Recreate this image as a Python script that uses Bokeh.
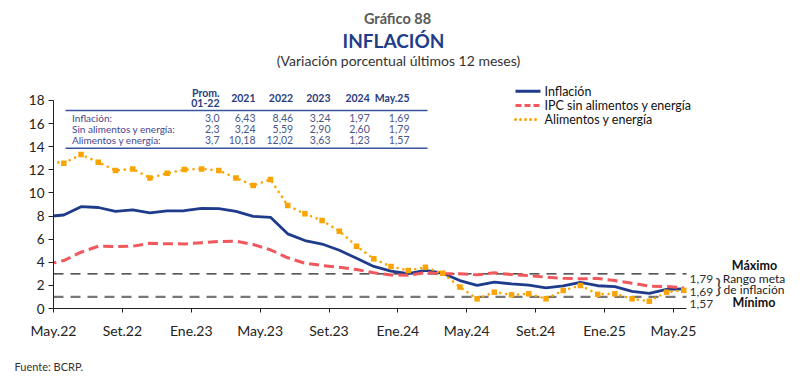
import numpy as np
from bokeh.plotting import figure
from bokeh.models import Range1d, Label, FixedTicker, CustomJSTickFormatter
from bokeh.embed import file_html
from bokeh.resources import INLINE

# ---------------- data ----------------
months = ["Abr.22", "May.22", "Jun.22", "Jul.22", "Ago.22", "Set.22", "Oct.22", "Nov.22", "Dic.22",
          "Ene.23", "Feb.23", "Mar.23", "Abr.23", "May.23", "Jun.23", "Jul.23", "Ago.23", "Set.23",
          "Oct.23", "Nov.23", "Dic.23", "Ene.24", "Feb.24", "Mar.24", "Abr.24", "May.24", "Jun.24",
          "Jul.24", "Ago.24", "Set.24", "Oct.24", "Nov.24", "Dic.24", "Ene.25", "Feb.25", "Mar.25",
          "Abr.25", "May.25"]
inflacion = [7.96, 8.09, 8.81, 8.74, 8.40, 8.53, 8.28, 8.45, 8.46,
             8.66, 8.65, 8.40, 7.97, 7.89, 6.46, 5.88, 5.58, 5.04,
             4.34, 3.64, 3.24, 3.02, 3.29, 3.05, 2.42, 2.00, 2.29,
             2.13, 2.03, 1.78, 1.96, 2.27, 1.97, 1.90, 1.48, 1.30,
             1.65, 1.69]
sin_alim_energia = [3.80, 4.15, 4.87, 5.39, 5.36, 5.39, 5.65, 5.60, 5.59,
                    5.70, 5.80, 5.82, 5.54, 5.07, 4.39, 3.92, 3.72, 3.57,
                    3.37, 3.09, 2.90, 2.88, 3.11, 3.00, 3.00, 2.91, 3.09,
                    2.94, 2.85, 2.71, 2.62, 2.57, 2.60, 2.42, 2.19, 1.93,
                    1.90, 1.79]
alim_energia = [12.80, 12.57, 13.32, 12.66, 11.94, 12.08, 11.30, 11.70, 12.02,
                12.08, 11.94, 11.30, 10.64, 11.16, 8.91, 8.19, 7.61, 6.69,
                5.39, 4.30, 3.63, 3.29, 3.57, 3.05, 1.85, 0.84, 1.41,
                1.18, 1.27, 0.84, 1.56, 1.99, 1.23, 1.27, 0.84, 0.63,
                1.41, 1.57]
x_labels = ["May.22", "Set.22", "Ene.23", "May.23", "Set.23", "Ene.24",
            "May.24", "Set.24", "Ene.25", "May.25"]
y_ticks = [0, 2, 4, 6, 8, 10, 12, 14, 16, 18]
rango_max, rango_min = 3, 1
legend_names = ["Inflación", "IPC sin alimentos y energía", "Alimentos y energía"]
table_head1 = ["Prom.", "", "", "", "", ""]
table_head2 = ["01-22", "2021", "2022", "2023", "2024", "May.25"]
table_rows = ["Inflación:", "Sin alimentos y energía:", "Alimentos y energía:"]
table_vals = [["3,0", "6,43", "8,46", "3,24", "1,97", "1,69"],
              ["2,3", "3,24", "5,59", "2,90", "2,60", "1,79"],
              ["3,7", "10,18", "12,02", "3,63", "1,23", "1,57"]]

# ---------------- geometry ----------------
W, H = 792, 374
FL, FB = 53, 308            # y-axis x position / x-axis y position (figure px)
PPX, PPY = 17.22, 11.556    # pixels per month / per percentage point
X0 = -0.6                   # data x at the y axis
XS = X0 - FL / PPX
X1 = X0 + (W - FL) / PPX
Y0 = -(H - FB) / PPY
Y1 = FB / PPY
X_END = X0 + (686 - FL) / PPX     # right end of the axis / reference lines
FONT = "Lato"


def X(px):   # figure pixel -> data x
    return X0 + (px - FL) / PPX


def Y(py):   # figure pixel -> data y
    return (FB - py) / PPY


xs = np.arange(len(months)) - 1

p = figure(width=W, height=H, output_backend="svg", toolbar_location=None,
           x_range=Range1d(XS, X1), y_range=Range1d(Y0, Y1),
           min_border_left=0, min_border_right=0,
           min_border_top=0, min_border_bottom=0)
p.outline_line_color = None
p.xgrid.visible = False
p.ygrid.visible = False
p.background_fill_color = None
p.border_fill_color = "white"

# axes (drawn at fixed positions inside the full-size frame)
p.xaxis.fixed_location = 0
p.yaxis.fixed_location = X0
p.yaxis.bounds = (0, 18)
p.xaxis.bounds = (X0, X_END)
p.yaxis.ticker = FixedTicker(ticks=y_ticks)
p.xaxis.ticker = FixedTicker(ticks=[X0 + 4 * i for i in range(len(x_labels))])
p.xaxis.formatter = CustomJSTickFormatter(args=dict(labels=x_labels, start=X0),
                                          code="return labels[Math.round((tick - start) / 4)] || '';")
for ax in (p.xaxis[0], p.yaxis[0]):
    ax.axis_line_color = "#222222"
    ax.axis_line_width = 1
    ax.major_tick_line_color = "#222222"
    ax.major_tick_in = 0
    ax.minor_tick_line_color = None
    ax.major_label_text_font = FONT
    ax.major_label_text_color = "#222222"
p.yaxis.major_tick_out = 5
p.yaxis.major_label_standoff = 4
p.yaxis.major_label_text_font_size = "13.5px"
p.xaxis.major_tick_out = 4
p.xaxis.major_label_standoff = 9
p.xaxis.major_label_text_font_size = "14px"

# target range lines
p.segment(x0=X0, x1=X_END, y0=rango_max, y1=rango_max, line_color="#222222",
          line_width=1.3, line_dash="10 7")
p.segment(x0=X0, x1=X_END, y0=rango_min, y1=rango_min, line_color="#777777",
          line_width=2.2, line_dash="10 7")

BLUE, RED, ORANGE = "#1f3b8c", "#f0585d", "#f9a400"

# clip series at the y axis (series start one month before the first tick)
clip = xs >= X0
p.line(xs, inflacion, line_color=BLUE, line_width=2.8, line_join="round")
p.line(xs, sin_alim_energia, line_color=RED, line_width=3, line_dash="10 5")
p.line(xs, alim_energia, line_color=ORANGE, line_width=2.6, line_dash="0 6", line_cap="round")
p.scatter(xs[clip], np.array(alim_energia)[clip], marker="square", size=5.5,
          fill_color=ORANGE, line_color=None)
# white mask left of the y axis hides the part of the lines before May.22
p.quad(left=XS, right=X0, bottom=0, top=18, fill_color="white", line_color=None)

# legend (manual)
leg_y = [90.7, 105, 119]
p.line([X(515), X(540)], [Y(leg_y[0])] * 2, line_color=BLUE, line_width=3)
p.line([X(515), X(540)], [Y(leg_y[1])] * 2, line_color=RED, line_width=3, line_dash="6 3")
p.line([X(515), X(540)], [Y(leg_y[2])] * 2, line_color=ORANGE, line_width=3,
       line_dash="0 5", line_cap="round")


def lab(text, px, py, size, color="#222222", align="left", style="normal", baseline="middle"):
    p.add_layout(Label(x=X(px), y=Y(py), text=text, text_font=FONT,
                       text_font_size=f"{size}px", text_color=color, text_align=align,
                       text_baseline=baseline, text_font_style=style))


for name, yy in zip(legend_names, leg_y):
    lab(name, 544, yy, 12.5, "#111111")

# titles
lab("Gráfico 88", 397, 18, 14.5, "#5a5a5a", "center", "bold")
lab("INFLACIÓN", 393, 40, 19, "#1f3d8a", "center", "bold")
lab("(Variación porcentual últimos 12 meses)", 398, 60, 14, "#333333", "center")

# table
col_right = [219, 255, 292.7, 330, 369.3, 409]
HEAD = "#2a3c7c"
VALC = "#4a5688"
ROWC = "#45458f"
for cx, h1, h2 in zip(col_right, table_head1, table_head2):
    if h1:
        lab(h1, cx, 92.5, 10.5, HEAD, "right", "bold")
        lab(h2, cx, 102.5, 10.5, HEAD, "right", "bold")
    else:
        lab(h2, cx, 97.5, 10.5, HEAD, "right", "bold")
p.line([X(65), X(427)], [Y(110)] * 2, line_color="#3a55a0", line_width=1.4)
p.line([X(65), X(427)], [Y(147.7)] * 2, line_color="#3a55a0", line_width=1.4)
row_y = [117.5, 128, 139]
for rname, vals, ry in zip(table_rows, table_vals, row_y):
    lab(rname, 71.5, ry, 10, ROWC)
    for cx, v in zip(col_right, vals):
        lab(v, cx, ry, 10.5, VALC, "right")


def fmt(v):
    return f"{v:.2f}".replace(".", ",")


# right annotations
lab(fmt(sin_alim_energia[-1]), 689, 278, 12, "#333333")
lab(fmt(inflacion[-1]), 689, 291, 12, "#333333")
lab(fmt(alim_energia[-1]), 689, 303, 12, "#333333")
lab("}", 718, 284, 20, "#444444", "center")
lab("Máximo", 754, 265, 12.5, "#111111", "center", "bold")
lab("Rango meta", 753.5, 278, 12, "#222222", "center")
lab("de inflación", 753.5, 289, 12, "#222222", "center")
lab("Mínimo", 753.5, 302, 12.5, "#111111", "center", "bold")

# source
lab("Fuente: BCRP.", 14, 366, 11, "#333333")

open("out.html", "w").write(file_html(p, INLINE))
